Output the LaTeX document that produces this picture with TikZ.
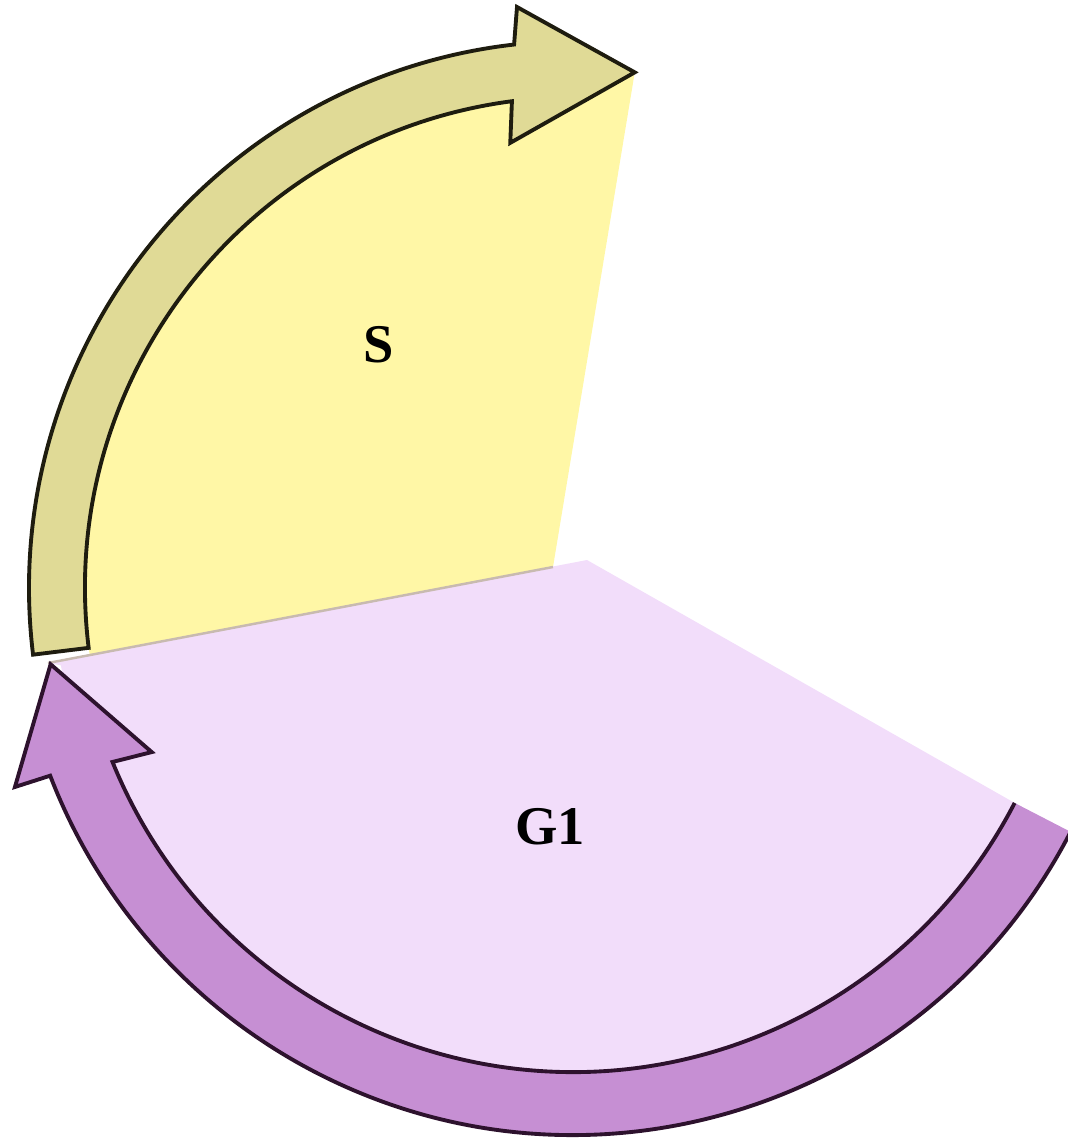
\documentclass[tikz,border=0pt]{standalone}
\usepackage{fontspec}
\setmainfont{Liberation Serif}
\usetikzlibrary{calc}
\definecolor{ink}{RGB}{30,28,15}
\definecolor{gink}{RGB}{45,18,45}
\definecolor{sfill}{RGB}{255,247,166}
\definecolor{sarrow}{RGB}{224,218,150}
\definecolor{gfill}{RGB}{242,221,250}
\definecolor{garrow}{RGB}{198,143,211}
\definecolor{seamc}{RGB}{200,186,176}
\tikzset{
  band/.style={line width=1.1pt,line join=miter},
  seam/.style={seamc,line width=0.7pt},
  phase/.style={font=\fontsize{15.5}{17}\selectfont\bfseries,inner sep=0pt},
}
\begin{document}
\begin{tikzpicture}[x=0.01cm,y=0.01cm]
\useasboundingbox (0,0) rectangle (1068,-1143);
\clip (0,0) rectangle (1068,-1143);
\coordinate (cS) at (576,-588);   % centre of the S arc
\coordinate (cG) at (573,-575);   % centre of the G1 arc
\coordinate (apexS) at (553,-567);
\coordinate (apexG) at (587,-560);
\coordinate (corner) at (48,-663);
% sectors
\fill[sfill] (apexS) -- ($(cS)+(83.5:519)$) arc[start angle=83.5,end angle=187,radius=519]
  -- ($(cS)+(187:491)$) -- (90,-657) -- cycle;
\fill[gfill] (apexG) -- ($(cG)+(-27.4:520)$) arc[start angle=-27.4,end angle=-170,radius=520]
  -- (corner) -- cycle;
\draw[seam] (corner) -- (apexS);
% S arrow
\filldraw[band,draw=ink,fill=sarrow] ($(cS)+(187:547)$) arc[start angle=187,end angle=96.5,radius=547]
  -- ($(cS)+(95.8:584)$) -- ($(cS)+(83.5:519)$) -- ($(cS)+(98.4:450)$)
  -- ($(cS)+(97.5:491)$) arc[start angle=97.5,end angle=187,radius=491] -- cycle;
% G1 arrow
\fill[garrow] ($(cG)+(-27.3:560)$) arc[start angle=-27.3,end angle=-159,radius=560]
  -- ($(cG)+(-159.2:597)$) -- ($(cG)+(-170.3:530)$) -- ($(cG)+(-157.2:457)$)
  -- ($(cG)+(-157.9:497)$) arc[start angle=-157.9,end angle=-27.3,radius=497] -- cycle;
\draw[band,gink] ($(cG)+(-27.3:560)$) arc[start angle=-27.3,end angle=-159,radius=560]
  -- ($(cG)+(-159.2:597)$) -- ($(cG)+(-170.3:530)$) -- ($(cG)+(-157.2:457)$)
  -- ($(cG)+(-157.9:497)$) arc[start angle=-157.9,end angle=-27.3,radius=497];
\node[phase] (s) at (379,-345) {S};
\node[phase] (g1) at (550,-827) {G1};
\end{tikzpicture}
\end{document}
